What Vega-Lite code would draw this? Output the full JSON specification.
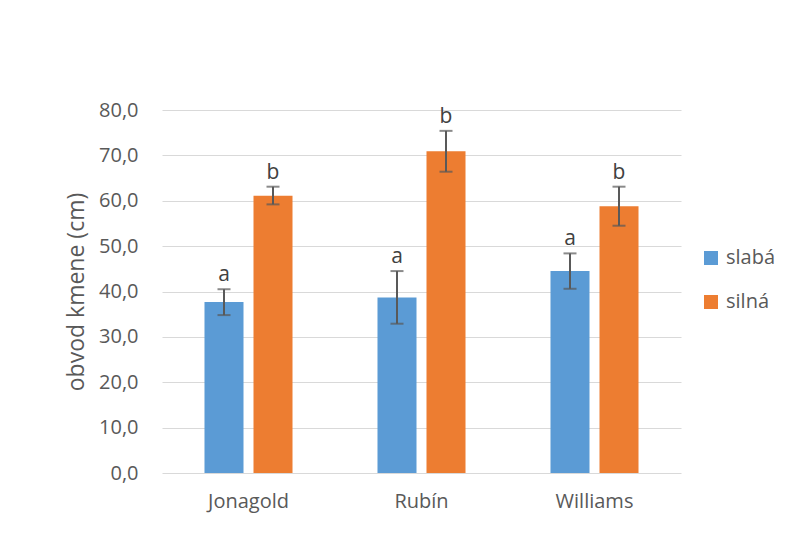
{
  "$schema": "https://vega.github.io/schema/vega-lite/v6.json",
  "autosize": "none",
  "width": 519,
  "height": 363,
  "padding": {"left": 162, "top": 110, "right": 106, "bottom": 62},
  "background": "white",
  "config": {
    "font": "Open Sans",
    "view": {"stroke": null},
    "axis": {"labelColor": "#595959", "titleColor": "#595959", "labelFont": "Open Sans", "titleFont": "Open Sans"}
  },
  "data": {
    "values": [
      {"odruda": "Jonagold", "hnojeni": "slabá", "mean": 37.7, "lo": 34.8, "hi": 40.5, "pismeno": "a"},
      {"odruda": "Jonagold", "hnojeni": "silná", "mean": 61.1, "lo": 59.2, "hi": 63.1, "pismeno": "b"},
      {"odruda": "Rubín", "hnojeni": "slabá", "mean": 38.7, "lo": 32.9, "hi": 44.5, "pismeno": "a"},
      {"odruda": "Rubín", "hnojeni": "silná", "mean": 70.9, "lo": 66.4, "hi": 75.4, "pismeno": "b"},
      {"odruda": "Williams", "hnojeni": "slabá", "mean": 44.5, "lo": 40.6, "hi": 48.4, "pismeno": "a"},
      {"odruda": "Williams", "hnojeni": "silná", "mean": 58.8, "lo": 54.5, "hi": 63.1, "pismeno": "b"}
    ]
  },
  "encoding": {
    "x": {
      "field": "odruda", "type": "nominal", "sort": ["Jonagold", "Rubín", "Williams"],
      "scale": {"paddingInner": 0, "paddingOuter": 0},
      "axis": {"title": null, "labelAngle": 0, "ticks": false, "domain": false, "grid": false, "labelFontSize": 20, "labelPadding": 18}
    },
    "xOffset": {
      "field": "hnojeni", "type": "nominal", "sort": ["slabá", "silná"],
      "scale": {"paddingInner": 0.204, "paddingOuter": 0.867}
    }
  },
  "layer": [
    {
      "mark": {"type": "bar"},
      "encoding": {
        "y": {
          "field": "mean", "type": "quantitative",
          "scale": {"domain": [0, 80], "nice": false},
          "axis": {
            "title": "obvod kmene (cm)", "titleFontSize": 23, "titleFontWeight": "normal", "titlePadding": 10,
            "values": [0, 10, 20, 30, 40, 50, 60, 70, 80],
            "labelExpr": "replace(format(datum.value, '.1f'), '.', ',')",
            "labelFontSize": 20, "labelPadding": 24, "ticks": false, "domain": false,
            "grid": true, "gridColor": "#D9D9D9", "gridWidth": 1
          }
        },
        "color": {
          "field": "hnojeni", "type": "nominal", "sort": ["slabá", "silná"],
          "scale": {"domain": ["slabá", "silná"], "range": ["#5B9BD5", "#ED7D31"]},
          "legend": {
            "title": null, "orient": "none", "legendX": 539, "legendY": 138,
            "symbolType": "square", "symbolSize": 196, "symbolStrokeWidth": 0,
            "labelFontSize": 20, "labelColor": "#595959", "rowPadding": 24, "labelOffset": 5
          }
        }
      }
    },
    {
      "mark": {"type": "rule", "color": "#595959", "strokeWidth": 2},
      "encoding": {
        "y": {"field": "lo", "type": "quantitative"},
        "y2": {"field": "hi"}
      }
    },
    {
      "mark": {"type": "tick", "color": "#595959", "thickness": 2, "size": 13},
      "encoding": {"y": {"field": "lo", "type": "quantitative"}}
    },
    {
      "mark": {"type": "tick", "color": "#595959", "thickness": 2, "size": 13},
      "encoding": {"y": {"field": "hi", "type": "quantitative"}}
    },
    {
      "mark": {"type": "text", "color": "#404040", "fontSize": 21, "baseline": "bottom", "dy": -4},
      "encoding": {
        "y": {"field": "hi", "type": "quantitative"},
        "text": {"field": "pismeno"}
      }
    }
  ]
}
